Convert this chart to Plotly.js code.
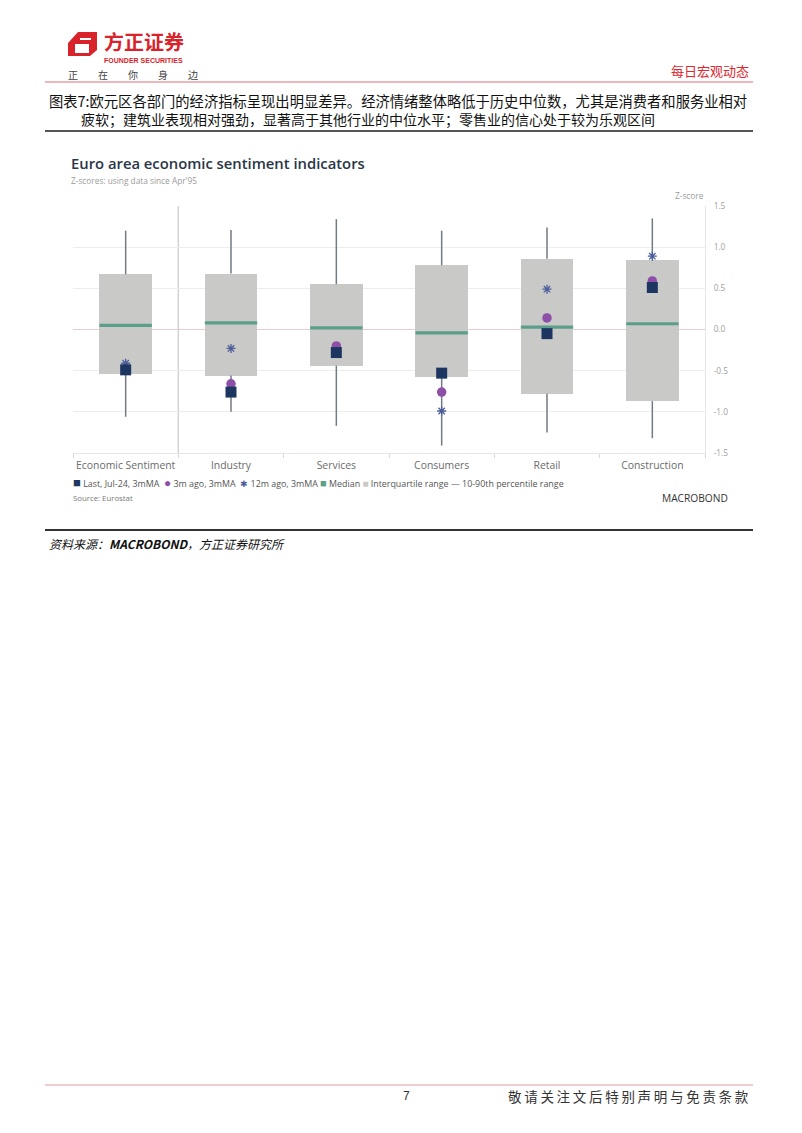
<!DOCTYPE html>
<html><head><meta charset="utf-8">
<script src="https://cdn.plot.ly/plotly-3.0.1.min.js"></script>
<style>body{margin:0;background:#fff}#chart{width:802px;height:1133px}</style>
</head><body><div id="chart"></div>
<script>
// ---- data ----
const categories = ["Economic Sentiment","Industry","Services","Consumers","Retail","Construction"];
const p10    = [-1.06,-1.00,-1.17,-1.41,-1.25,-1.32];
const q1     = [-0.54,-0.56,-0.44,-0.58,-0.78,-0.87];
const median = [0.05, 0.08, 0.02,-0.04, 0.03, 0.07];
const q3     = [0.67, 0.68, 0.55, 0.78, 0.86, 0.85];
const p90    = [1.20, 1.21, 1.34, 1.20, 1.24, 1.35];
const last   = [-0.49,-0.76,-0.28,-0.53,-0.05,0.51];
const ago3m  = [-0.48,-0.66,-0.20,-0.76,0.14,0.59];
const ago12m = [-0.41,-0.23,-0.25,-0.99,0.49,0.89];
const yTickVals = [-1.5,-1,-0.5,0,0.5,1,1.5];
const yTickText = ["-1.5","-1.0","-0.5","0.0","0.5","1.0","1.5"];

// ---- helpers ----
const W = 802, H = 1133;
const px = x => x / W;
const py = y => 1 - y / H;
const CH = "Open Sans, Noto Sans, sans-serif";
const CJK = "Noto Sans CJK SC, sans-serif";

// whiskers built from data
const wx = [], wy = [];
categories.forEach((c, i) => {
  wx.push(c, c, null, c, c, null);
  wy.push(q3[i], p90[i], null, p10[i], q1[i], null);
});

const traces = [
  {type: "bar", x: categories, base: q1, y: q1.map((v, i) => q3[i] - v), width: 0.5,
   marker: {color: "#c9c9c7", line: {width: 0}}, hoverinfo: "skip", showlegend: false},
  {type: "scatter", mode: "lines", x: wx, y: wy, line: {color: "#737a83", width: 1.5},
   hoverinfo: "skip", showlegend: false, connectgaps: false},
  {type: "scatter", mode: "markers", x: categories, y: median,
   marker: {symbol: "line-ew", size: 37.4, color: "#5b9f8b", line: {color: "#5b9f8b", width: 3.2}}, showlegend: false},
  {type: "scatter", mode: "markers", x: categories, y: ago12m,
   marker: {symbol: "asterisk-open", size: 7.5, color: "#4b5d9b", line: {color: "#4b5d9b", width: 1.3}}, showlegend: false},
  {type: "scatter", mode: "markers", x: categories, y: ago3m,
   marker: {symbol: "circle", size: 9.5, color: "#8e4fa8"}, showlegend: false},
  {type: "scatter", mode: "markers", x: categories, y: last,
   marker: {symbol: "square", size: 11, color: "#1c3661"}, showlegend: false}
];

function line(y, x0, x1, color, w) {
  return {type: "line", xref: "paper", yref: "paper", x0: px(x0), x1: px(x1), y0: py(y), y1: py(y),
          line: {color: color, width: w}};
}
function pathP(pts) {
  return pts.map((p, i) => (i ? "L" : "M") + px(p[0]).toFixed(5) + "," + py(p[1]).toFixed(5)).join(" ") + " Z";
}

const shapes = [
  line(82, 45, 753, "#e0717a", 1.2),
  line(131, 45, 753, "#555", 2),
  line(530, 45, 753, "#333", 2),
  line(1085, 45, 753, "#e39aa3", 1.2),
  // logo icon
  {type: "path", xref: "paper", yref: "paper", fillcolor: "#d9232b", line: {width: 0},
   path: pathP([[78,32],[97,32],[97,50],[90,56],[68,56],[68,43]])},
  {type: "path", xref: "paper", yref: "paper", fillcolor: "#ffffff", line: {width: 0},
   path: pathP([[75,44],[89,44],[89,53],[75,53]])},
  {type: "path", xref: "paper", yref: "paper", fillcolor: "#ffffff", line: {width: 0},
   path: pathP([[80,38],[91,38],[91,40],[80,40]])},
  // separator between aggregate and sectors
  {type: "line", xref: "x", yref: "y", x0: 0.5, x1: 0.5, y0: -1.5, y1: 1.5, layer: "below",
   line: {color: "#d2d2d2", width: 1.5}}
];

function ann(text, x, y, size, color, xanchor, extra) {
  return Object.assign({text: text, x: px(x), y: py(y), xref: "paper", yref: "paper",
    xanchor: xanchor || "left", yanchor: "middle", showarrow: false,
    font: {size: size, color: color, family: CH}}, extra || {});
}

const legendHtml =
  '<span style="color:#1c3661;font-size:13px">■</span> Last, Jul-24, 3mMA  ' +
  '<span style="color:#8e4fa8;font-size:12px">●</span> 3m ago, 3mMA  ' +
  '<span style="color:#4b5d9b">✱</span> 12m ago, 3mMA ' +
  '<span style="color:#5b9f8b;font-size:11px">■</span> Median ' +
  '<span style="color:#c9c9c7;font-size:10px">■</span> Interquartile range ' +
  '— 10-90th percentile range';

const annotations = [
  ann("<b>方正证券</b>", 102, 41, 20, "#d9232b", "left", {font: {size: 20, color: "#d9232b", family: CJK}}),
  ann("<b>FOUNDER SECURITIES</b>", 102, 60, 7, "#d9232b", "left", {font: {size: 7, color: "#d9232b", family: "Liberation Sans, Arial"}}),
  ann("正　　在　　你　　身　　边", 66, 75, 10, "#444", "left", {font: {size: 10, color: "#444", family: CJK}}),
  ann("每日宏观动态", 751, 70, 13, "#e0262e", "right", {font: {size: 13, color: "#e0262e", family: CJK}}),
  ann("图表7:欧元区各部门的经济指标呈现出明显差异。经济情绪整体略低于历史中位数，尤其是消费者和服务业相对", 47, 100, 14.3, "#111", "left", {font: {size: 14.3, color: "#111", family: CJK}}),
  ann("疲软；建筑业表现相对强劲，显著高于其他行业的中位水平；零售业的信心处于较为乐观区间", 79, 119, 14, "#111", "left", {font: {size: 14, color: "#111", family: CJK}}),
  ann("<i>资料来源：<b>MACROBOND</b>，方正证券研究所</i>", 47, 543, 12, "#111", "left", {font: {size: 12, color: "#111", family: CJK}}),
  ann("7", 406, 1096, 12, "#333", "center", {font: {size: 12, color: "#333", family: "Liberation Sans, Arial"}}),
  ann("敬请关注文后特别声明与免责条款".split("").join("\u2009"), 751, 1096, 13.5, "#333", "right", {font: {size: 13.5, color: "#333", family: CJK}}),
  // chart texts
  ann("Euro area economic sentiment indicators", 69, 163, 14.8, "#2a3547", "left", {font: {size: 14.8, color: "#2a3547", family: CH, weight: 600}}),
  ann("Z-scores: using data since Apr'95", 69, 180, 8.3, "#9b9b9b"),
  ann("Z-score", 706, 195, 8.3, "#9b9b9b", "right"),
  ann(legendHtml, 71, 482, 8.9, "#555"),
  ann("Source: Eurostat", 71, 498, 7.8, "#777"),
  ann("MACROBOND", 730, 498, 10.2, "#333", "right", {font: {size: 10.2, color: "#333", family: CH}})
];

const layout = {
  width: W, height: H,
  margin: {l: 0, r: 0, t: 0, b: 0},
  paper_bgcolor: "#fff", plot_bgcolor: "#fff",
  showlegend: false,
  bargap: 0,
  xaxis: {domain: [px(73), px(705)], type: "category", range: [-0.5, 5.5],
    tickson: "boundaries", ticks: "outside", ticklen: 4, tickcolor: "#d8d8d8", tickangle: 0,
    ticklabelstandoff: 3,
    showgrid: false, showline: true, linecolor: "#e6e6e6", linewidth: 1,
    tickfont: {size: 10.4, color: "#6c6c6c", family: CH}, fixedrange: true},
  yaxis: {domain: [py(453), py(206)], range: [-1.5, 1.5], side: "right",
    tickvals: yTickVals, ticktext: yTickText, ticks: "", ticklabelstandoff: 6,
    showgrid: true, gridcolor: "#ededed", gridwidth: 1,
    zeroline: true, zerolinecolor: "#e6cdd2", zerolinewidth: 1.3,
    showline: true, linecolor: "#e6e6e6", linewidth: 1,
    tickfont: {size: 8.3, color: "#a0a0a0", family: CH}, fixedrange: true},
  shapes: shapes,
  annotations: annotations
};

Plotly.newPlot("chart", traces, layout, {displayModeBar: false, staticPlot: true});
</script>
</body></html>
